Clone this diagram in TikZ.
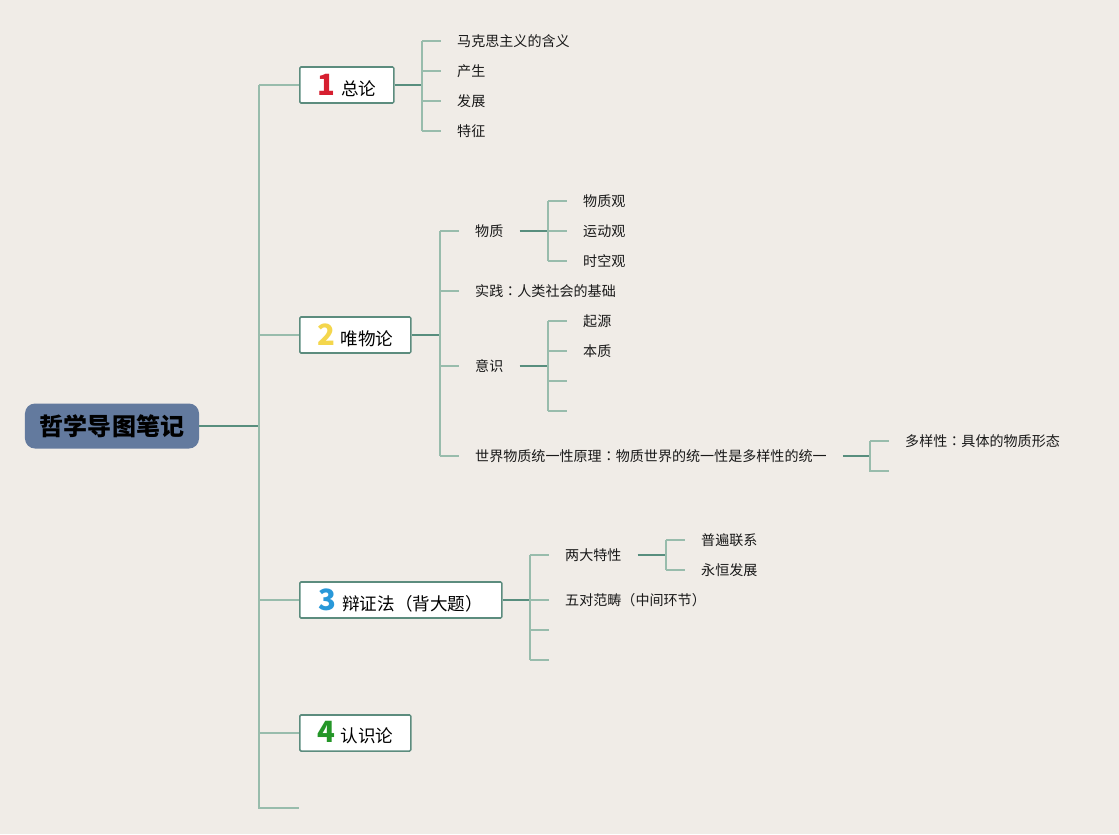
\documentclass[tikz,border=0pt]{standalone}
\usepackage{fontspec}
\setmainfont{Noto Sans CJK SC}
\newfontfamily\cjkjp{Noto Sans CJK JP}
\usepackage{xcolor}
\definecolor{mapbg}{RGB}{240, 236, 231}
\definecolor{rootblue}{RGB}{99, 122, 158}
\definecolor{mapdark}{RGB}{88, 142, 126}
\definecolor{maplight}{RGB}{152, 188, 172}
\definecolor{mapborder}{RGB}{92, 140, 126}
\definecolor{numred}{RGB}{214, 31, 48}
\definecolor{numyellow}{RGB}{244, 214, 76}
\definecolor{numblue}{RGB}{40, 152, 217}
\definecolor{numgreen}{RGB}{36, 150, 40}
\newcommand{\tnum}[2]{{\bfseries\fontsize{25}{25}\selectfont\color{#1}#2}\hspace{5pt}}
\newcommand{\mcolon}{{\cjkjp ：}}

\begin{document}
\begin{tikzpicture}[x=0.03cm, y=-0.03cm]

% === Estilos ===
\tikzset{
    root/.style={fill=rootblue, rounded corners=0.3cm, minimum width=5.22cm,
        minimum height=1.35cm, inner sep=0pt, font=\bfseries\fontsize{20.5}{24}\selectfont},
    topic/.style={draw=mapborder, line width=1.3pt, fill=white, rounded corners=1pt,
        anchor=west, minimum height=1.08cm, inner sep=0pt, font=\fontsize{15}{18}\selectfont},
    leaf/.style={anchor=west, inner xsep=0.48cm, inner ysep=2pt, text=black!90,
        font=\fontsize{12}{14}\selectfont},
    stem/.style={mapdark, line width=1.5pt},
    twig/.style={maplight, line width=1.3pt}
}

% === Fondo ===
\useasboundingbox (0,0) rectangle (1119,834);
\fill[mapbg] (0,0) rectangle (1119,834);

% === Raiz y tronco ===
\node[root] (root) at (112,426) {哲学导图笔记};
\coordinate (trunk) at (259,426);
\coordinate (ttop) at (259,85);
\coordinate (tbot) at (259,808);
\coordinate (tend) at (299,808);
\draw[stem] (root.east) -- (trunk);
\draw[twig] (ttop) -- (tbot) -- (tend);

% === Temas ===
\node[topic, minimum width=2.82cm] (t1) at (299,85) {\tnum{numred}{1}总论};
\node[topic, minimum width=3.33cm] (t2) at (299,335) {\tnum{numyellow}{2}唯物论};
\node[topic, minimum width=6.06cm] (t3) at (299,600) {\tnum{numblue}{3}辩证法（背大题）};
\node[topic, minimum width=3.33cm] (t4) at (299,733) {\tnum{numgreen}{4}认识论};
\foreach \t in {t1,t2,t3,t4}
    \draw[twig] (\t.west -| trunk) -- (\t.west);

% === 1 总论 ===
\coordinate (f1) at (422,85);
\node[leaf] (a1) at (441,41) {马克思主义的含义};
\node[leaf] (a2) at (441,71) {产生};
\node[leaf] (a3) at (441,101) {发展};
\node[leaf] (a4) at (441,131) {特征};
\draw[stem] (t1.east) -- (f1);
\draw[twig] (a1.west -| f1) -- (a4.west -| f1);
\foreach \n in {a1,a2,a3,a4}
    \draw[twig] (\n.west -| f1) -- (\n.west);

% === 2 唯物论 ===
\coordinate (f2) at (440,335);
\node[leaf] (b1) at (459,231) {物质};
\node[leaf] (b2) at (459,291) {实践\mcolon 人类社会的基础};
\node[leaf] (b3) at (459,366) {意识};
\node[leaf] (b4) at (459,456) {世界物质统一性原理\mcolon 物质世界的统一性是多样性的统一};
\draw[stem] (t2.east) -- (f2);
\draw[twig] (b1.west -| f2) -- (b4.west -| f2);
\foreach \n in {b1,b2,b3,b4}
    \draw[twig] (\n.west -| f2) -- (\n.west);

% 物质
\coordinate (f21) at (548,231);
\node[leaf] (c1) at (567,201) {物质观};
\node[leaf] (c2) at (567,231) {运动观};
\node[leaf] (c3) at (567,261) {时空观};
\draw[stem] (b1.east) -- (f21);
\draw[twig] (c1.west -| f21) -- (c3.west -| f21);
\foreach \n in {c1,c2,c3}
    \draw[twig] (\n.west -| f21) -- (\n.west);

% 意识 (dos ramas vacias)
\coordinate (f23) at (548,366);
\node[leaf] (d1) at (567,321) {起源};
\node[leaf] (d2) at (567,351) {本质};
\coordinate (d3) at (567,381);
\coordinate (d4) at (567,411);
\draw[stem] (b3.east) -- (f23);
\draw[twig] (d1.west -| f23) -- (d4 -| f23);
\foreach \n in {d1.west,d2.west,d3,d4}
    \draw[twig] (\n -| f23) -- (\n);

% unidad material del mundo
\coordinate (f24) at (870,456);
\node[leaf] (e1) at (889,441) {多样性\mcolon 具体的物质形态};
\coordinate (e2) at (889,471);
\draw[stem] (b4.east) -- (f24);
\draw[twig] (e1.west -| f24) -- (e2 -| f24) -- (e2);
\draw[twig] (e1.west -| f24) -- (e1.west);

% === 3 辩证法 ===
\coordinate (f3) at (530,600);
\node[leaf] (g1) at (549,555) {两大特性};
\node[leaf] (g2) at (549,600) {五对范畴（中间环节）};
\coordinate (g3) at (549,630);
\coordinate (g4) at (549,660);
\draw[stem] (t3.east) -- (f3);
\draw[twig] (g1.west -| f3) -- (g4 -| f3);
\foreach \n in {g1.west,g2.west,g3,g4}
    \draw[twig] (\n -| f3) -- (\n);

% 两大特性
\coordinate (f31) at (666,555);
\node[leaf] (h1) at (685,540) {普遍联系};
\node[leaf] (h2) at (685,570) {永恒发展};
\draw[stem] (g1.east) -- (f31);
\draw[twig] (h1.west -| f31) -- (h2.west -| f31);
\foreach \n in {h1,h2}
    \draw[twig] (\n.west -| f31) -- (\n.west);

\end{tikzpicture}
\end{document}
